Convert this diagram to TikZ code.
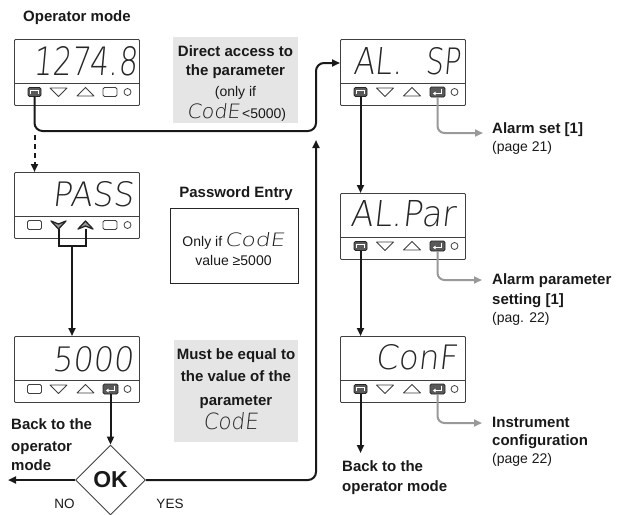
\documentclass[tikz,border=0pt]{standalone}
\usepackage{graphicx}
\usepackage{fontspec}
\setmainfont{Liberation Sans}
\newfontfamily\segfont[FakeSlant=0.12]{DejaVu Sans ExtraLight}
\usetikzlibrary{arrows.meta,shapes.geometric}

\newcommand\segtxt[3]{\resizebox{#1pt}{#2pt}{\segfont #3}}

\tikzset{
  disp/.style={draw=black!75, line width=0.9pt, fill=white, rounded corners=1pt},
  divl/.style={draw=black!75, line width=0.9pt},
  btn/.style={draw=black!75, line width=0.8pt, fill=white, line join=round},
  btnfill/.style={draw=black!85, line width=1.3pt, fill=black!40, line join=round},
  btndark/.style={draw=black!85, line width=0.8pt, fill=black!65, rounded corners=1.5pt},
  conn/.style={draw=black!90, line width=2pt, -{Triangle[length=8pt,width=7pt]}},
  gconn/.style={draw=black!40, line width=2pt, rounded corners=7pt, -{Triangle[length=8pt,width=7pt]}},
  gbg/.style={fill=black!10},
  lb/.style={font=\fontsize{15}{18}\selectfont\bfseries, inner sep=0, text=black!90},
  lr/.style={font=\fontsize{14}{17}\selectfont, inner sep=0, text=black!90},
  segnode/.style={inner sep=0, text=black!85},
}

\newcommand\dispbox[3]{%
  \node[disp, anchor=north west, minimum width=125pt, minimum height=66pt, inner sep=0] (#1) at (#2,#3) {};
  \draw[divl] ([yshift=-44pt]#1.north west) -- ([yshift=-44pt]#1.north east);}
\newcommand\bMenu[2]{\begin{scope}[shift={(#1,#2)}]
  \draw[btndark] (-6.5,-4.5) rectangle (6.5,4.5);
  \draw[white, line width=0.7pt] (-4,1.5) -- (-4,-1.2) -- (4,-1.2) -- (4,1.5);
  \end{scope}}
\newcommand\bEnter[2]{\begin{scope}[shift={(#1,#2)}]
  \draw[btndark] (-7.5,-5) rectangle (7.5,5);
  \draw[white, line width=0.8pt, -{Triangle[length=2.5pt,width=3.5pt]}] (4,-3.5) -- (4,1.5) -- (-4.5,1.5);
  \end{scope}}
\newcommand\bRect[2]{\draw[btn, rounded corners=1.5pt] (#1-7,#2-4.5) rectangle (#1+7,#2+4.5);}
\newcommand\bDown[2]{\draw[btn] (#1-8.5,#2-4) -- (#1+8.5,#2-4) -- (#1,#2+4.5) -- cycle;}
\newcommand\bUp[2]{\draw[btn] (#1-8.5,#2+4) -- (#1+8.5,#2+4) -- (#1,#2-4.5) -- cycle;}
\newcommand\bDownF[2]{\draw[btnfill] (#1-7.5,#2-4) -- (#1,#2-1) -- (#1+7.5,#2-4) -- (#1,#2+4) -- cycle;}
\newcommand\bUpF[2]{\draw[btnfill] (#1-7.5,#2+4) -- (#1,#2+1) -- (#1+7.5,#2+4) -- (#1,#2-4) -- cycle;}
\newcommand\bCirc[2]{\draw[btn] (#1,#2) circle[radius=3.5pt];}

\begin{document}
\begin{tikzpicture}[x=1pt,y=-1pt]
\useasboundingbox (0,0) rectangle (620,514);

% grey note backgrounds
\fill[gbg] (173,37) rectangle (298,123);
\fill[gbg] (174,340) rectangle (298,442);

% ---------- displays ----------
\dispbox{b1}{14}{39}
\node[segnode, anchor=south west] (s1) at (33,76) {\segtxt{104}{29}{1274.8}};
\bMenu{34.5}{92}\bDown{58.5}{92}\bUp{85.5}{92}\bRect{110}{92}\bCirc{127.5}{92}

\dispbox{bP}{14}{172}
\node[segnode, anchor=south west] (sP) at (52,207) {\segtxt{81}{25}{PASS}};
\bRect{34.5}{225}\bDownF{58.5}{225}\bUpF{85.5}{225}\bRect{110}{225}\bCirc{127.5}{225}

\dispbox{b5}{14}{336}
\node[segnode, anchor=south west] (s5) at (52,372) {\segtxt{81}{25}{5000}};
\bRect{34.5}{389}\bDown{58.5}{389}\bUp{85.5}{389}\bEnter{110.5}{389}\bCirc{127.5}{389}

\dispbox{b2}{340}{39}
\node[segnode, anchor=south west] (s2a) at (353,75) {\segtxt{49}{27}{AL.}};
\node[segnode, anchor=south west] (s2b) at (425,75) {\segtxt{35}{27}{SP}};
\bMenu{360.5}{92}\bDown{385}{92}\bUp{412}{92}\bEnter{437.5}{92}\bCirc{454.5}{92}

\dispbox{b3}{340}{193}
\node[segnode, anchor=south west] (s3) at (350,227) {\segtxt{105}{26}{AL.Par}};
\bMenu{360.5}{246}\bDown{385}{246}\bUp{412}{246}\bEnter{437.5}{246}\bCirc{454.5}{246}

\dispbox{b4}{340}{336}
\node[segnode, anchor=south west] (s4) at (375,370) {\segtxt{82}{25}{ConF}};
\bMenu{360.5}{389}\bDown{385}{389}\bUp{412}{389}\bEnter{437.5}{389}\bCirc{454.5}{389}

% ---------- decision ----------
\node[draw=black!75, line width=0.9pt, diamond, minimum width=70pt, minimum height=70pt, inner sep=0,
      font=\fontsize{23}{23}\selectfont\bfseries, text=black!90] (ok) at (110.5,480) {OK};

% ---------- coordinates ----------
\coordinate (m1) at (34.5,96.5);
\coordinate (c1a) at (34.5,131);
\coordinate (c1b) at (316,131);
\coordinate (c1c) at (316,63);
\coordinate (b2in) at (340,63);
\coordinate (dstart) at (34.5,135);
\coordinate (bPin) at (34.5,172);
\coordinate (pd) at (58.5,229);
\coordinate (pu) at (85.5,229);
\coordinate (pdj) at (58.5,246);
\coordinate (puj) at (85.5,246);
\coordinate (pj) at (72,246);
\coordinate (b5in) at (72,336);
\coordinate (e5) at (110.5,394);
\coordinate (noend) at (8,480);
\coordinate (yc) at (316,480);
\coordinate (yend) at (316,140);
\coordinate (m2) at (360.5,96.5);
\coordinate (b3in) at (360.5,193);
\coordinate (m3) at (360.5,250.5);
\coordinate (b4in) at (360.5,336);
\coordinate (m4) at (360.5,393.5);
\coordinate (back) at (360.5,453);
\coordinate (e2) at (437.5,97);
\coordinate (e2c) at (437.5,133);
\coordinate (e2t) at (483,133);
\coordinate (e3) at (437.5,251);
\coordinate (e3c) at (437.5,280);
\coordinate (e3t) at (482,280);
\coordinate (e4) at (437.5,394);
\coordinate (e4c) at (437.5,423);
\coordinate (e4t) at (482,423);

% ---------- connectors ----------
\draw[conn, rounded corners=8pt] (m1) -- (c1a) -- (c1b) -- (c1c) -- (b2in);
\draw[conn, dash pattern=on 5pt off 4pt] (dstart) -- (bPin);
\draw[draw=black!90, line width=2pt, line join=miter] (pd) -- (pdj) -- (puj) -- (pu);
\draw[conn] (pj) -- (b5in);
\draw[conn] (e5) -- (ok.north);
\draw[conn] (ok.west) -- (noend);
\draw[conn, rounded corners=8pt] (ok.east) -- (yc) -- (yend);
\draw[conn] (m2) -- (b3in);
\draw[conn] (m3) -- (b4in);
\draw[conn] (m4) -- (back);
\draw[gconn] (e2) -- (e2c) -- (e2t);
\draw[gconn] (e3) -- (e3c) -- (e3t);
\draw[gconn] (e4) -- (e4c) -- (e4t);

% ---------- texts ----------
\node[lb, anchor=base west] (title) at (23,21) {Operator mode};

\node[lb, anchor=base] (g1a) at (235.5,56) {Direct access to};
\node[lb, anchor=base] (g1b) at (235.5,75) {the parameter};
\node[lr, anchor=base] (g1c) at (235.5,96) {(only if};
\node[lr, anchor=base] (g1d) at (236.5,118) {\segtxt{53}{15}{CodE}\,<5000)};

\node[lb, anchor=base] (pw) at (236,197.5) {Password Entry};
\draw[draw=black!85, line width=1pt] (170,208) rectangle (298,283);
\node[lr, anchor=base] (pw1) at (233.5,246) {Only if\,\segtxt{60}{14}{CodE}};
\node[lr, anchor=base] (pw2) at (233.5,265) {value ≥5000};

\node[lb, anchor=base] (g2a) at (236,359) {Must be equal to};
\node[lb, anchor=base] (g2b) at (236,381) {the value of the};
\node[lb, anchor=base] (g2c) at (236,405) {parameter};
\node[segnode, anchor=south] (g2d) at (230.5,430) {\segtxt{55}{17}{CodE}};

\node[lb, anchor=base west] (bl1) at (11,429) {Back to the};
\node[lb, anchor=base west] (bl2) at (11,451) {operator};
\node[lb, anchor=base west] (bl3) at (11,470) {mode};
\node[lr, anchor=base, font=\fontsize{13.5}{16}\selectfont] (no) at (64.5,508) {NO};
\node[lr, anchor=base, font=\fontsize{13.5}{16}\selectfont] (yes) at (170,508) {YES};

\node[lb, anchor=base west] (br1) at (342,471) {Back to the};
\node[lb, anchor=base west] (br2) at (342,491) {operator mode};

\node[lb, anchor=base west] (a1) at (492,133) {Alarm set [1]};
\node[lr, anchor=base west] (a1p) at (492,151) {(page 21)};
\node[lb, anchor=base west] (a2) at (492,284) {Alarm parameter};
\node[lb, anchor=base west] (a2b) at (492,304) {setting [1]};
\node[lr, anchor=base west] (a2p) at (492,322) {(pag. 22)};
\node[lb, anchor=base west] (a3) at (492,427) {Instrument};
\node[lb, anchor=base west] (a3b) at (492,445) {configuration};
\node[lr, anchor=base west] (a3p) at (492,463) {(page 22)};
\end{tikzpicture}
\end{document}
